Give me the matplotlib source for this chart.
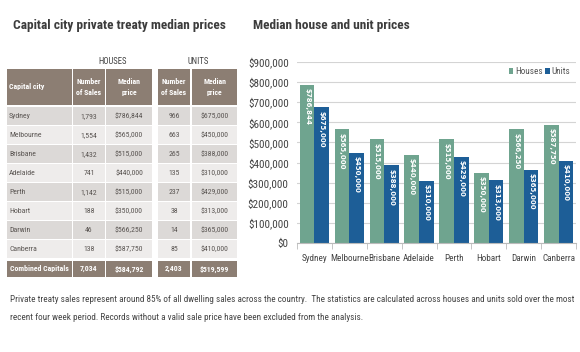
import matplotlib.pyplot as plt
from matplotlib import font_manager
from matplotlib.patches import Rectangle
from matplotlib.ticker import FuncFormatter, MultipleLocator
import numpy as np

# Data
cities = ["Sydney", "Melbourne", "Brisbane", "Adelaide", "Perth", "Hobart", "Darwin", "Canberra"]
house_sales = ["1,793", "1,554", "1,432", "741", "1,142", "188", "46", "138"]
house_price = [786844, 565000, 515000, 440000, 515000, 350000, 566250, 587750]
unit_sales = ["966", "663", "265", "135", "237", "38", "14", "85"]
unit_price = [675000, 450000, 388000, 310000, 429000, 313000, 365000, 410000]
combined = ["Combined Capitals", "7,034", "$584,792", "2,403", "$519,599"]

# pick a condensed family that also has a bold face
cands = ["Arial Narrow", "Liberation Sans Narrow", "Roboto Condensed", "PT Sans Narrow",
         "Archivo Narrow", "Open Sans Condensed", "Pathway Gothic One"]
faces = {}
for f in font_manager.fontManager.ttflist:
    w = f.weight if isinstance(f.weight, int) else (700 if "bold" in str(f.weight) else 400)
    faces.setdefault(f.name, set()).add(w)
narrow = [c for c in cands if c in faces and any(w >= 600 for w in faces[c])]
narrow += [c for c in cands if c in faces and c not in narrow]
FONT = narrow[:1] + ["Liberation Sans", "DejaVu Sans"]
plt.rcParams["font.family"] = FONT

W, H = 580, 352
fig = plt.figure(figsize=(W / 100, H / 100), dpi=100)
fig.patch.set_facecolor("white")


def fx(x):
    return x / W


def fy(y):
    return 1 - y / H


def cell(x0, y0, x1, y1, color):
    fig.patches.append(Rectangle((fx(x0), fy(y1)), fx(x1) - fx(x0), fy(y0) - fy(y1),
                                 transform=fig.transFigure, facecolor=color,
                                 edgecolor="none", zorder=1))


def put(x, y, s, **kw):
    fig.text(fx(x), fy(y), s, **kw)


# --- titles ---
put(13, 25, "Capital city private treaty median prices", fontsize=9.6, fontweight="bold",
    color="#3c3c3c", va="center", ha="left")
put(253, 25, "Median house and unit prices", fontsize=9.6, fontweight="bold",
    color="#3c3c3c", va="center", ha="left")

# --- table ---
cols = [(7, 72), (73, 105), (106, 152), (158, 190), (192, 237)]
hdr = "#8c7e73"
body_txt = "#5a5552"
put(113, 61, "HOUSES", fontsize=6.3, color="#444444", ha="center", va="center")
put(198, 61, "UNITS", fontsize=6.3, color="#444444", ha="center", va="center")

fs_tab = 5.6
hdr_text = ["Capital city", "Number\nof Sales", "Median\nprice", "Number\nof Sales", "Median\nprice"]
for i, (a, b) in enumerate(cols):
    cell(a, 69, b, 105, hdr)
    if i == 0:
        put(a + 2, 87, hdr_text[i], fontsize=fs_tab, fontweight="bold", color="white",
            ha="left", va="center")
    else:
        put((a + b) / 2, 87, hdr_text[i], fontsize=fs_tab, fontweight="bold", color="white",
            ha="center", va="center", linespacing=1.6)

row_h = 19
for r, city in enumerate(cities):
    y0 = 107 + r * row_h
    y1 = y0 + row_h - 1
    shade = "#dcd9d7" if r % 2 == 0 else "#eeeceb"
    vals = [city, house_sales[r], "${:,}".format(house_price[r]),
            unit_sales[r], "${:,}".format(unit_price[r])]
    for i, (a, b) in enumerate(cols):
        cell(a, y0, b, y1, shade)
        if i == 0:
            put(a + 2, (y0 + y1) / 2, vals[i], fontsize=fs_tab, color=body_txt,
                ha="left", va="center")
        else:
            put((a + b) / 2, (y0 + y1) / 2, vals[i], fontsize=fs_tab, color=body_txt,
                ha="center", va="center")

for i, (a, b) in enumerate(cols):
    cell(a, 261, b, 277, hdr)
    put((a + b) / 2, 269, combined[i], fontsize=fs_tab, fontweight="bold", color="white",
        ha="center", va="center")

# --- chart ---
ax = fig.add_axes([fx(297), fy(243), fx(576) - fx(297), fy(62) - fy(243)])
x = np.arange(len(cities))
w = 0.42
house_col = "#6fa48f"
unit_col = "#1d5e97"
bh = ax.bar(x - w / 2, house_price, w, color=house_col, label="Houses", zorder=2)
bu = ax.bar(x + w / 2, unit_price, w, color=unit_col, label="Units", zorder=2)

for bars, vals in ((bh, house_price), (bu, unit_price)):
    for b, v in zip(bars, vals):
        ax.text(b.get_x() + b.get_width() / 2, v - 18000, "${:,}".format(v),
                rotation=-90, ha="center", va="top", fontsize=5, color="white",
                fontweight="bold", family=["DejaVu Sans"], zorder=3)

ax.set_ylim(0, 900000)
ax.set_xlim(-0.5, len(cities) - 0.5)
ax.yaxis.set_major_locator(MultipleLocator(100000))
ax.yaxis.set_major_formatter(FuncFormatter(lambda v, p: "${:,.0f}".format(v)))
ax.grid(axis="y", color="#d4d4d4", linewidth=0.8, zorder=0)
for s in ("top", "right", "left"):
    ax.spines[s].set_visible(False)
ax.spines["bottom"].set_color("#bbbbbb")
ax.tick_params(axis="y", length=0, labelsize=8, labelcolor="#444444", pad=6)
ax.set_xticks(x)
ax.set_xticklabels(cities)
ax.tick_params(axis="x", length=0, labelsize=6.6, labelcolor="#444444", pad=8)
ax.set_xticks(np.arange(-0.5, len(cities), 1), minor=True)
ax.tick_params(axis="x", which="minor", length=4, color="#bbbbbb")

leg = ax.legend(loc="upper right", bbox_to_anchor=(1.0, 1.0), ncol=2, frameon=False,
                fontsize=6.6, handlelength=0.5, handleheight=0.7, handletextpad=0.2,
                columnspacing=0.3, borderaxespad=0.2)
for t in leg.get_texts():
    t.set_color("#555555")

# --- footnote ---
put(10, 300, "Private treaty sales represent around 85% of all dwelling sales across the country.  "
    "The statistics are calculated across houses and units sold over the most",
    fontsize=6.6, color="#444444", ha="left", va="center")
put(10, 317, "recent four week period. Records without a valid sale price have been excluded from the analysis.",
    fontsize=6.6, color="#444444", ha="left", va="center")

fig.savefig("out.png", dpi=100, facecolor="white")
